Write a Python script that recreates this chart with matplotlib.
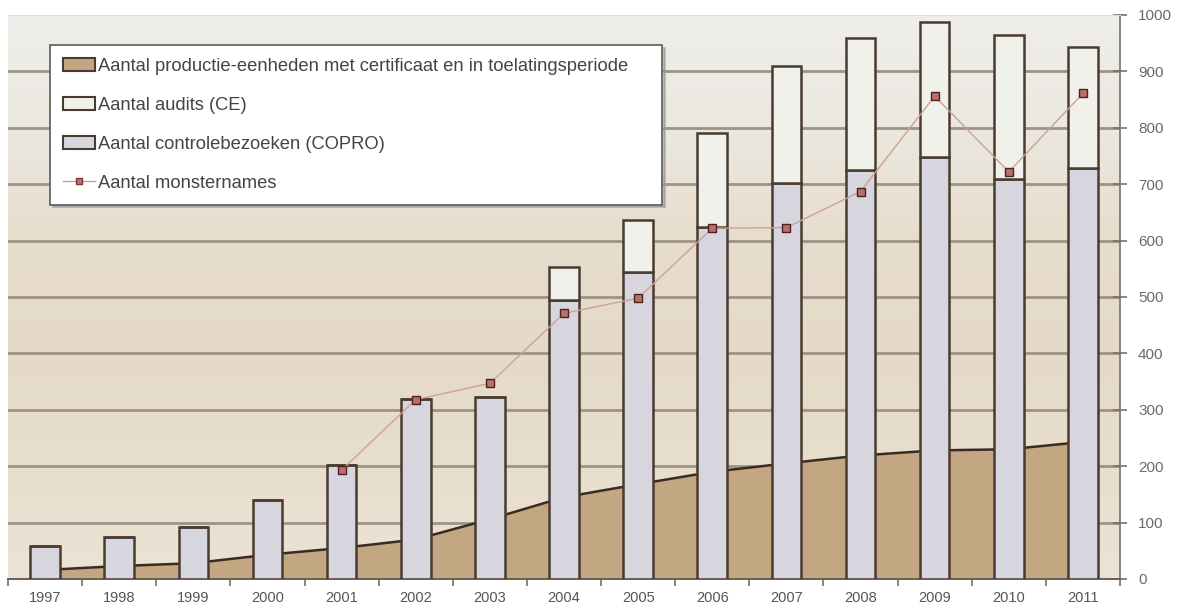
import numpy as np
import matplotlib.pyplot as plt
from matplotlib.colors import LinearSegmentedColormap
from matplotlib.patches import Patch
from matplotlib.lines import Line2D

years = [str(y) for y in range(1997, 2012)]
productie = [16, 23, 28, 43, 55, 70, 106, 145, 168, 190, 205, 219, 228, 230, 243]
copro = [59, 75, 93, 140, 203, 319, 323, 495, 544, 624, 703, 725, 748, 710, 728]
ce = [0, 0, 0, 0, 0, 0, 0, 59, 92, 167, 207, 235, 239, 255, 216]
monsternames = [np.nan, np.nan, np.nan, np.nan, 193, 318, 347, 471, 498,
                622, 623, 687, 856, 722, 861]

labels = ["Aantal productie-eenheden met certificaat en in toelatingsperiode",
          "Aantal audits (CE)",
          "Aantal controlebezoeken (COPRO)",
          "Aantal monsternames"]

c_area = "#c3a682"
c_copro = "#d7d5de"
c_ce = "#f1f1ec"
c_edge = "#4a3b30"
c_line = "#d1a092"

plt.rcParams['font.family'] = ['Liberation Sans', 'DejaVu Sans']

fig = plt.figure(figsize=(11.9, 6.12), dpi=100)
ax = fig.add_axes([8 / 1190, 1 - 579 / 612, 1112 / 1190, 564 / 612])

x = np.arange(len(years))
ax.set_xlim(-0.5, len(years) - 0.5)
ax.set_ylim(0, 1000)

# background gradient of the plot area
bg = LinearSegmentedColormap.from_list(
    "bg", [(0.0, "#ebe3d5"), (0.15, "#e8dfcf"), (0.4, "#e5dac7"),
           (0.6, "#e7ddcd"), (0.8, "#ebe8e0"), (1.0, "#efeeea")])
grad = np.linspace(0, 1, 256).reshape(-1, 1)
ax.imshow(grad, cmap=bg, origin="lower", aspect="auto",
          extent=[-0.5, len(years) - 0.5, 0, 1000], zorder=0)

for v in range(100, 1000, 100):
    ax.axhline(v, color="#9e9385", lw=2.0, zorder=1)

# area for production units, bars on top
ax.fill_between(x, productie, color=c_area, lw=0, zorder=2)
ax.plot(x, productie, color="#3a2b1f", lw=1.8, zorder=2)

w = 0.4
ax.bar(x, copro, w, color=c_copro, edgecolor=c_edge, lw=1.8, zorder=3)
ax.bar(x, ce, w, bottom=copro, color=c_ce, edgecolor=c_edge, lw=1.8, zorder=3)

ax.plot(x, monsternames, color=c_line, lw=1.0, zorder=4,
        marker="s", ms=6, mfc="#b8706a", mec="#4a2020", mew=1.0)

# axes styling
ax.yaxis.tick_right()
ax.set_yticks(range(0, 1001, 100))
ax.tick_params(axis="y", direction="inout", length=10, width=1.2, color="#7a7068",
               labelsize=11, labelcolor="#6a6a6a", pad=8)
ax.set_xticks(x)
ax.set_xticklabels(years)
ax.set_xticks(np.arange(-0.5, len(years)), minor=True)
ax.tick_params(axis="x", which="major", length=0, labelsize=10.5,
               labelcolor="#555555", pad=9)
ax.tick_params(axis="x", which="minor", length=5, width=1.2, color="#7a7068")

ax.spines["left"].set_visible(False)
ax.spines["top"].set_color("#dcdcd8")
ax.spines["right"].set_color("#7a7068")
ax.spines["right"].set_linewidth(1.2)
ax.spines["bottom"].set_color("#6a5e55")
ax.spines["bottom"].set_linewidth(1.4)

handles = [Patch(facecolor=c_area, edgecolor=c_edge, lw=1.5),
           Patch(facecolor=c_ce, edgecolor=c_edge, lw=1.5),
           Patch(facecolor=c_copro, edgecolor=c_edge, lw=1.5),
           Line2D([], [], color=c_line, lw=1.0, marker="s", ms=5,
                  mfc="#c0706a", mec="#8a3030")]
leg = ax.legend(handles, labels, loc="upper left",
                bbox_to_anchor=(0.038, 0.668, 0.55, 0.279), mode="expand",
                fontsize=13.2, frameon=True, fancybox=False,
                handlelength=1.75, handleheight=0.7, handletextpad=0.15,
                labelspacing=1.2, borderpad=0.7, borderaxespad=0,
                labelcolor="#444444",
                shadow={"color": "#999999", "alpha": 0.6})
leg.get_frame().set_edgecolor("#666666")
leg.get_frame().set_linewidth(1.3)
leg.get_frame().set_facecolor("white")
leg.set_zorder(6)

fig.savefig("out.png", dpi=100)
